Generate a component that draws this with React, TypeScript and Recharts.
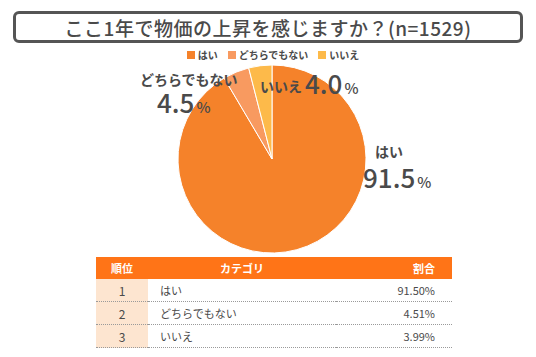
import React from 'react';
import { PieChart, Pie, Cell } from 'recharts';

const categories = ['はい', 'どちらでもない', 'いいえ'];
const shares = [91.5, 4.51, 3.99];
const ranks = [1, 2, 3];
const colors = ['#F5822A', '#F89A60', '#FDBA4A'];

const title = 'ここ1年で物価の上昇を感じますか？(n=1529)';
const font = '"Noto Sans CJK JP", "Noto Sans", sans-serif';
const textGray = '#4a4a4a';

const chartData = categories.map((name, i) => ({ name, value: shares[i] }));

// label offsets relative to the pie centre (name, number)
const labelPos = [
  { nx: 117, ny: -2, nAnchor: 'middle', vx: 91, vy: 29 },
  { nx: -132, ny: -74, nAnchor: 'start', vx: -115, vy: -46 },
  { nx: -12, ny: -67, nAnchor: 'start', vx: 33, vy: -65 },
];

const renderLabel = (props: any) => {
  const { cx, cy, index, name, value } = props;
  const p = labelPos[index];
  return (
    <g key={`lbl-${index}`}>
      <text x={cx + p.nx} y={cy + p.ny} textAnchor={p.nAnchor} fill={textGray}
        fontSize={14} fontWeight={700} fontFamily={font}>
        {name}
      </text>
      <text x={cx + p.vx} y={cy + p.vy} textAnchor="start" fill={textGray} fontFamily={font} fontWeight={500}>
        <tspan fontSize={26}>{Number(value).toFixed(1)}</tspan>
        <tspan fontSize={15} dx={2}>%</tspan>
      </text>
    </g>
  );
};

const cellStyle: React.CSSProperties = {
  height: 22,
  padding: 0,
  borderBottom: '1px dotted #9a9a9a',
  fontSize: 11,
  color: textGray,
};

export default function App() {
  return (
    <div style={{ position: 'fixed', left: 0, top: 0, width: 536, height: 357, background: '#fff', fontFamily: font }}>
      <div style={{
        position: 'absolute', left: 13, top: 11, width: 510, height: 32, boxSizing: 'border-box',
        border: '3px solid #555', borderRadius: 6, display: 'flex', alignItems: 'center', justifyContent: 'center',
        fontSize: 19, fontWeight: 500, color: textGray, letterSpacing: 0.5,
      }}>
        {title}
      </div>

      <div style={{
        position: 'absolute', left: 0, top: 48, width: 546, display: 'flex', justifyContent: 'center', gap: 10,
        fontSize: 10, fontWeight: 700, color: textGray, lineHeight: '14px',
      }}>
        {categories.map((c, i) => (
          <div key={c} style={{ display: 'flex', alignItems: 'center', gap: 3 }}>
            <span style={{ width: 8, height: 8, background: colors[i], display: 'inline-block' }} />
            <span>{c}</span>
          </div>
        ))}
      </div>

      <div style={{ position: 'absolute', left: 0, top: 0 }}>
        <PieChart width={536} height={357} margin={{ top: 0, right: 0, bottom: 0, left: 0 }}>
          <Pie
            data={chartData}
            dataKey="value"
            nameKey="name"
            cx={272}
            cy={159}
            outerRadius={94}
            startAngle={90}
            endAngle={-270}
            stroke="#fff"
            strokeWidth={1}
            label={renderLabel}
            labelLine={false}
            isAnimationActive={false}
          >
            {chartData.map((d, i) => (
              <Cell key={d.name} fill={colors[i]} />
            ))}
          </Pie>
        </PieChart>
      </div>

      <table style={{ position: 'absolute', left: 96, top: 257, width: 356, borderCollapse: 'collapse', fontFamily: font }}>
        <thead>
          <tr style={{ background: '#FF7417', color: '#fff', fontSize: 11 }}>
            <th style={{ height: 22, width: 52, padding: 0, fontWeight: 700 }}>順位</th>
            <th style={{ height: 22, padding: 0, fontWeight: 700 }}>カテゴリ</th>
            <th style={{ height: 22, padding: '0 17px 0 0', textAlign: 'right', fontWeight: 700 }}>割合</th>
          </tr>
        </thead>
        <tbody>
          {categories.map((c, i) => (
            <tr key={c}>
              <td style={{ ...cellStyle, background: '#FDE5D0', textAlign: 'center', fontSize: 12 }}>{ranks[i]}</td>
              <td style={{ ...cellStyle, paddingLeft: 12 }}>{c}</td>
              <td style={{ ...cellStyle, textAlign: 'right', paddingRight: 17 }}>{shares[i].toFixed(2)}%</td>
            </tr>
          ))}
        </tbody>
      </table>
    </div>
  );
}
